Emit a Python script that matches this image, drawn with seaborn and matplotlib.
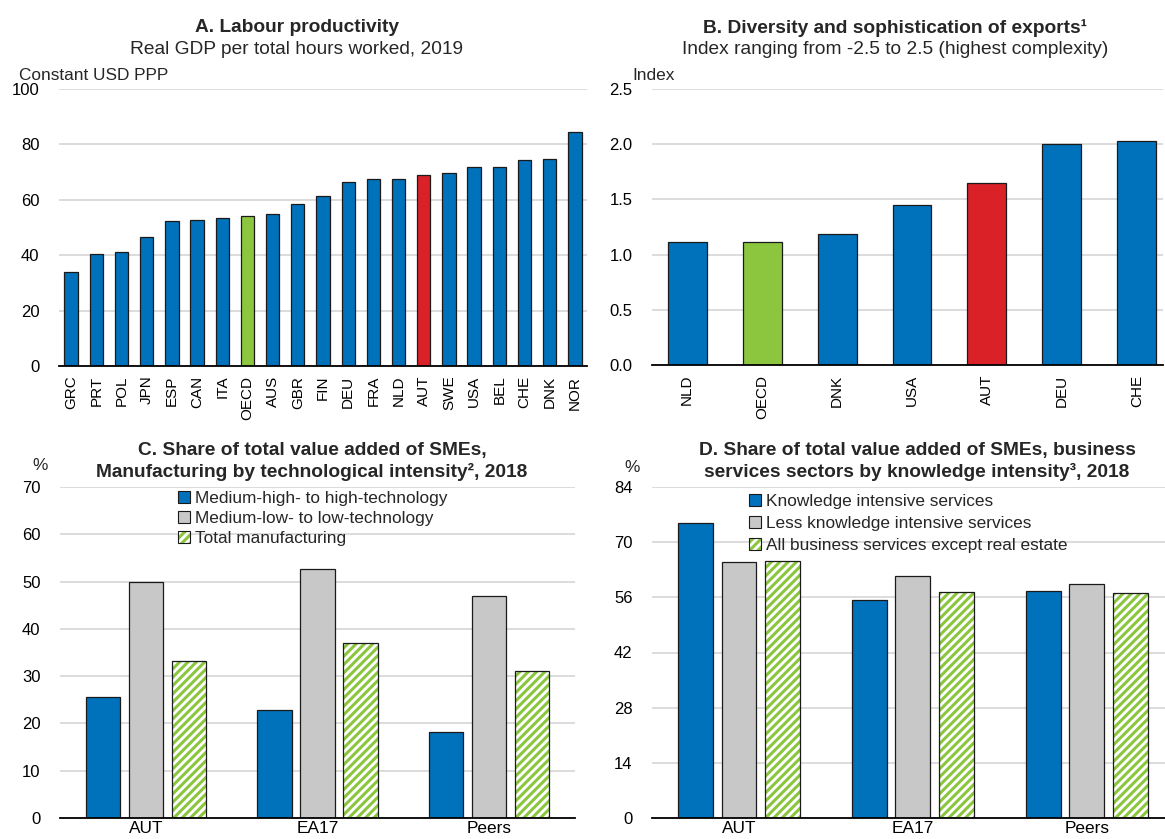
import numpy as np
import pandas as pd
import matplotlib
matplotlib.use("Agg")
import matplotlib.pyplot as plt
import seaborn as sns
from matplotlib.patches import Rectangle, Patch

# ---------------- data ----------------
countries_a = ["GRC", "PRT", "POL", "JPN", "ESP", "CAN", "ITA", "OECD", "AUS", "GBR", "FIN",
               "DEU", "FRA", "NLD", "AUT", "SWE", "USA", "BEL", "CHE", "DNK", "NOR"]
productivity = [33.8, 40.3, 41.0, 46.5, 52.5, 52.6, 53.4, 54.3, 55.0, 58.4, 61.5,
                66.3, 67.5, 67.5, 68.8, 69.8, 71.9, 72.0, 74.4, 74.9, 84.3]

countries_b = ["NLD", "OECD", "DNK", "USA", "AUT", "DEU", "CHE"]
complexity = [1.11, 1.11, 1.19, 1.45, 1.645, 2.00, 2.03]

groups = ["AUT", "EA17", "Peers"]
manuf_series = ["Medium-high- to high-technology", "Medium-low- to low-technology",
                "Total manufacturing"]
manuf_high = [25.5, 22.9, 18.1]
manuf_low = [50.0, 52.7, 46.9]
manuf_total = [33.3, 37.1, 31.0]

serv_series = ["Knowledge intensive services", "Less knowledge intensive services",
               "All business services except real estate"]
serv_ki = [74.9, 55.4, 57.7]
serv_lki = [65.0, 61.5, 59.5]
serv_all = [65.3, 57.4, 57.2]

# ---------------- style ----------------
BLUE = "#0072BC"
RED = "#DA2128"
GREEN = "#8CC63F"
GREY = "#C8C8C8"
EDGE = "#1a1a1a"
GRID = "#D9D9D9"

TITLE_FS = 13.8
TEXT_FS = 12.4
TICK_FS = 12

sns.set_theme(style="white")
plt.rcParams["font.family"] = ["Liberation Sans", "DejaVu Sans"]
plt.rcParams["hatch.linewidth"] = 2.2

W, H = 1165, 839
fig = plt.figure(figsize=(W / 100, H / 100), dpi=100)


def fx(px):
    return px / W


def fy(py):
    return 1 - py / H


def make_ax(left, top, right, bottom):
    return fig.add_axes([fx(left), fy(bottom), fx(right) - fx(left), fy(top) - fy(bottom)])


def style(ax, ylim, yticks, fmt="{:g}"):
    ax.set_ylim(*ylim)
    ax.set_yticks(yticks)
    ax.set_yticklabels([fmt.format(t) for t in yticks])
    ax.grid(axis="y", color=GRID, lw=1.3)
    ax.grid(axis="x", visible=False)
    ax.set_axisbelow(True)
    for s in ["left", "right", "top"]:
        ax.spines[s].set_visible(False)
    ax.spines["bottom"].set_color("black")
    ax.spines["bottom"].set_linewidth(1.3)
    ax.tick_params(axis="y", length=0, labelsize=TICK_FS, pad=14, colors="black")
    ax.tick_params(axis="x", length=0, labelsize=TICK_FS, colors="black")
    ax.set_xlabel("")
    ax.set_ylabel("")


def colour_for(c):
    if c == "AUT":
        return RED
    if c == "OECD":
        return GREEN
    return BLUE


# ---------------- Panel A ----------------
axA = make_ax(59, 89, 587, 366)
dfA = pd.DataFrame({"country": countries_a, "value": productivity})
sns.barplot(data=dfA, x="country", y="value", hue="country", order=countries_a,
            palette={c: colour_for(c) for c in countries_a}, legend=False,
            width=0.53, edgecolor=EDGE, linewidth=0.9, saturation=1, ax=axA)
style(axA, (0, 100), [0, 20, 40, 60, 80, 100], "{:d}")
axA.set_xlim(-0.48, 20.48)
axA.tick_params(axis="x", rotation=90, pad=7, labelsize=11)

fig.text(fx(297), fy(28), "A. Labour productivity", ha="center", va="center",
         fontsize=TITLE_FS, fontweight="bold")
fig.text(fx(297), fy(49), "Real GDP per total hours worked, 2019", ha="center",
         va="center", fontsize=TITLE_FS)
fig.text(fx(19), fy(75), "Constant USD PPP", ha="left", va="center", fontsize=TEXT_FS)

# ---------------- Panel B ----------------
axB = make_ax(652, 89, 1163, 365)
dfB = pd.DataFrame({"country": countries_b, "value": complexity})
sns.barplot(data=dfB, x="country", y="value", hue="country", order=countries_b,
            palette={c: colour_for(c) for c in countries_b}, legend=False,
            width=0.52, edgecolor=EDGE, linewidth=0.9, saturation=1, ax=axB)
style(axB, (0, 2.5), [0, 0.5, 1.0, 1.5, 2.0, 2.5], "{:.1f}")
axB.set_xlim(-0.47, 6.35)
axB.tick_params(axis="x", rotation=90, pad=7, labelsize=11)

fig.text(fx(895), fy(28), "B. Diversity and sophistication of exports\u00b9", ha="center",
         va="center", fontsize=TITLE_FS, fontweight="bold")
fig.text(fx(895), fy(49), "Index ranging from -2.5 to 2.5 (highest complexity)",
         ha="center", va="center", fontsize=TITLE_FS)
fig.text(fx(632), fy(75), "Index", ha="left", va="center", fontsize=TEXT_FS)


# ---------------- grouped panels ----------------
def grouped(ax, series_names, series_values, ylim, yticks, legend_xy, spacing):
    rows = []
    for name, vals in zip(series_names, series_values):
        for g, v in zip(groups, vals):
            rows.append({"group": g, "series": name, "value": v})
    df = pd.DataFrame(rows)
    pal = {series_names[0]: BLUE, series_names[1]: GREY, series_names[2]: GREEN}
    sns.barplot(data=df, x="group", y="value", hue="series", order=groups,
                hue_order=series_names, palette=pal, width=0.75, gap=0.2,
                edgecolor=EDGE, linewidth=0.9, saturation=1, ax=ax)
    leg = ax.get_legend()
    if leg is not None:
        leg.remove()
    # hatched third series
    for p in ax.containers[2]:
        p.set_facecolor("white")
        p.set_edgecolor(GREEN)
        p.set_hatch("////")
        p.set_linewidth(0)
        ax.add_patch(Rectangle(p.get_xy(), p.get_width(), p.get_height(), fill=False,
                               edgecolor=EDGE, linewidth=0.9, zorder=p.get_zorder() + 0.1))
    style(ax, ylim, yticks, "{:d}")
    ax.tick_params(axis="x", pad=2, labelsize=12.4)
    h1 = Patch(facecolor=BLUE, edgecolor=EDGE, linewidth=0.8)
    h2 = Patch(facecolor=GREY, edgecolor=EDGE, linewidth=0.8)
    h3a = Patch(facecolor="white", edgecolor=GREEN, hatch="////", linewidth=0)
    h3b = Patch(facecolor="none", edgecolor=EDGE, linewidth=0.8)
    fig.legend([h1, h2, (h3a, h3b)], series_names, loc="upper left",
               bbox_to_anchor=(fx(legend_xy[0]), fy(legend_xy[1])), frameon=False,
               fontsize=TEXT_FS, handlelength=0.7, handleheight=0.7, handletextpad=0.3,
               labelspacing=spacing, borderpad=0, borderaxespad=0)


axC = make_ax(60, 487, 575, 818)
grouped(axC, manuf_series, [manuf_high, manuf_low, manuf_total], (0, 70),
        [0, 10, 20, 30, 40, 50, 60, 70], (178, 491), 0.28)
axC.set_xlim(-0.5, 2.5)
fig.text(fx(312), fy(450), "C. Share of total value added of SMEs,", ha="center",
         va="center", fontsize=TITLE_FS, fontweight="bold")
fig.text(fx(312), fy(472), "Manufacturing by technological intensity\u00b2, 2018",
         ha="center", va="center", fontsize=TITLE_FS, fontweight="bold")
fig.text(fx(40), fy(465), "%", ha="center", va="center", fontsize=TEXT_FS)

axD = make_ax(652, 487, 1165, 818)
grouped(axD, serv_series, [serv_ki, serv_lki, serv_all], (0, 84),
        [0, 14, 28, 42, 56, 70, 84], (749, 494), 0.40)
axD.set_xlim(-0.5, 2.45)
fig.text(fx(917), fy(450), "D. Share of total value added of SMEs, business",
         ha="center", va="center", fontsize=TITLE_FS, fontweight="bold")
fig.text(fx(917), fy(472), "services sectors by knowledge intensity\u00b3, 2018",
         ha="center", va="center", fontsize=TITLE_FS, fontweight="bold")
fig.text(fx(632), fy(467), "%", ha="center", va="center", fontsize=TEXT_FS)

fig.savefig("out.png", dpi=100, facecolor="white")
